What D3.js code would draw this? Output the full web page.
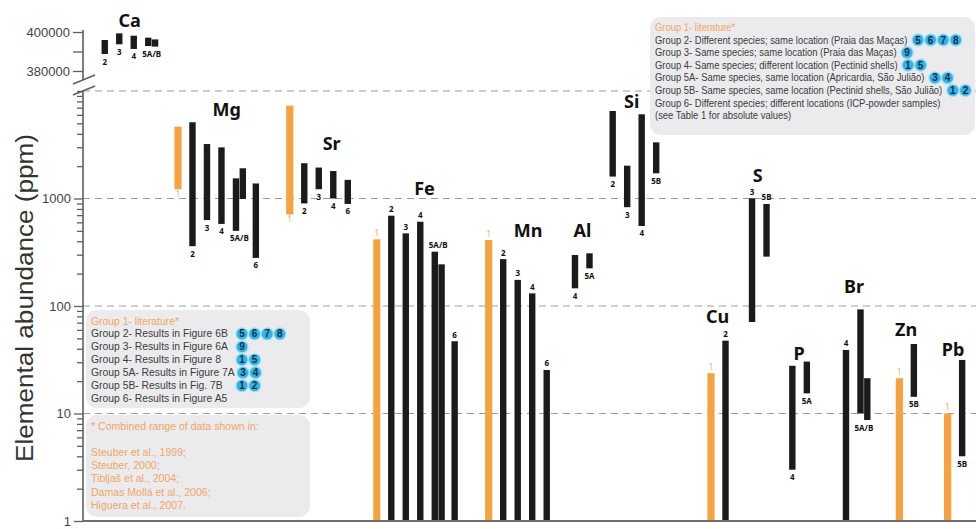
<!DOCTYPE html>
<html>
<head>
<meta charset="utf-8">
<script src="https://cdn.jsdelivr.net/npm/d3@7"></script>
<style>
  body { margin: 0; background: #fff; }
  svg { display: block; }
</style>
</head>
<body>
<svg id="chart" width="976" height="529"></svg>
<script>
// ---- data ---------------------------------------------------------------
// Element order along the horizontal axis
const elements = ["Ca", "Mg", "Sr", "Fe", "Mn", "Al", "Si", "Cu", "S", "P", "Br", "Zn", "Pb"];

// Ranges per element: [group, low ppm, high ppm]; a low of 1 runs down to the axis
const caRanges = [["2", 388700, 395900], ["3", 393700, 399300], ["4", 391300, 398100], ["5A", 392800, 397100], ["5B", 392500, 396200]];
const mgRanges = [["1", 1220, 4660], ["2", 360, 5120], ["3", 630, 3210], ["4", 580, 2990], ["5A", 500, 1540], ["5B", 990, 1910], ["6", 280, 1380]];
const srRanges = [["1", 710, 7300], ["2", 900, 2130], ["3", 1220, 1940], ["4", 1000, 1800], ["6", 890, 1490]];
const feRanges = [["1", 1, 417], ["2", 1, 692], ["3", 1, 474], ["4", 1, 608], ["5A", 1, 320], ["5B", 1, 244], ["6", 1, 47]];
const mnRanges = [["1", 1, 411], ["2", 1, 273], ["3", 1, 175], ["4", 1, 131], ["6", 1, 25.4]];
const alRanges = [["4", 146, 298], ["5A", 224, 309]];
const siRanges = [["2", 1600, 6520], ["3", 830, 2020], ["4", 555, 6070], ["5B", 1715, 3330]];
const cuRanges = [["1", 1, 23.7], ["2", 1, 47.6]];
const sRanges  = [["3", 71, 1005], ["5B", 288, 889]];
const pRanges  = [["4", 3, 27.8], ["5A", 15.4, 30.4]];
const brRanges = [["4", 1, 39], ["5A", 10, 93], ["5B", 8.7, 21.3]];
const znRanges = [["1", 1, 21.3], ["5B", 14.3, 44.3]];
const pbRanges = [["1", 1, 10], ["5B", 4, 31.5]];

// Axis ticks
const logTickLabels = [1, 10, 100, 1000];
const logGridValues = [10, 100, 1000, 10000];
const caTickValues = [380000, 390000, 400000];
const caTickLabels = ["380000", "", "400000"];

// Legend contents: [text, badge numbers]
const legendTopRight = [
  ["Group 1- literature*", []],
  ["Group 2- Different species; same location (Praia das Maças)", [5, 6, 7, 8]],
  ["Group 3- Same species; same location (Praia das Maças)", [9]],
  ["Group 4- Same species; different  location (Pectinid shells)", [1, 5]],
  ["Group 5A- Same species, same location (Apricardia, São Julião)", [3, 4]],
  ["Group 5B- Same species, same location (Pectinid shells, São Julião)", [1, 2]],
  ["Group 6- Different species; different locations (ICP-powder samples)", []],
  ["(see Table 1 for absolute values)", []]
];
const legendBottomLeft = [
  ["Group 1- literature*", []],
  ["Group 2- Results in Figure 6B", [5, 6, 7, 8]],
  ["Group 3- Results in Figure 6A", [9]],
  ["Group 4- Results in Figure 8", [1, 5]],
  ["Group 5A- Results in Figure 7A", [3, 4]],
  ["Group 5B- Results in Fig. 7B", [1, 2]],
  ["Group 6- Results in Figure A5", []]
];
const sourceLines = [
  "* Combined range of data shown in:",
  "",
  "Steuber et al., 1999;",
  "Steuber, 2000;",
  "Tibljaš et al., 2004;",
  "Damas Mollá et al., 2006;",
  "Higuera et al., 2007."
];

// ---- layout -------------------------------------------------------------
const rangesByElement = {
  Ca: caRanges, Mg: mgRanges, Sr: srRanges, Fe: feRanges, Mn: mnRanges, Al: alRanges,
  Si: siRanges, Cu: cuRanges, S: sRanges, P: pRanges, Br: brRanges, Zn: znRanges, Pb: pbRanges
};
// start: slot of first bar; labelAt: slot offset of element name; labelValue: baseline of the name
const layout = {
  Ca: { start: 1.5,   labelAt: 1.72, labelValue: 402560 },
  Mg: { start: 6.55,  labelAt: 3.36, labelValue: 5850 },
  Sr: { start: 14.26, labelAt: 2.89, labelValue: 2827 },
  Fe: { start: 20.26, labelAt: 3.29, labelValue: 1078 },
  Mn: { start: 27.98, labelAt: 2.71, labelValue: 441 },
  Al: { start: 33.93, labelAt: 0.52, labelValue: 441 },
  Si: { start: 36.53, labelAt: 1.31, labelValue: 6950 },
  Cu: { start: 43.31, labelAt: 0.45, labelValue: 70 },
  S:  { start: 46.14, labelAt: 0.39, labelValue: 1433, tagSide: "above" },
  P:  { start: 48.92, labelAt: 0.46, labelValue: 31.5 },
  Br: { start: 52.62, labelAt: 0.55, labelValue: 133 },
  Zn: { start: 56.3,  labelAt: 0.46, labelValue: 52.6 },
  Pb: { start: 59.63, labelAt: 0.37, labelValue: 34.3 }
};

const ORANGE = "#f5a340";
const ORANGE_TEXT = "#f2a663";
const BAR = "#1b1b1b";
const AXIS = "#5f5f5f";
const LEG_TEXT = "#3b3b3b";

const svg = d3.select("#chart");
const axisX = 83;
const slotW = 14.5;

const x = d3.scaleLinear().domain([0, 62]).range([axisX, axisX + 62 * slotW]);
const y = d3.scaleLog().domain([1, 10000]).range([521, 91]);
const yCa = d3.scaleLinear().domain([380000, 400000]).range([71, 32]);

// ---- gridlines ------------------------------------------------------------
svg.append("g").selectAll("line").data(logGridValues).join("line")
  .attr("x1", axisX).attr("x2", 976)
  .attr("y1", d => y(d)).attr("y2", d => y(d))
  .attr("stroke", "#9c9c9c").attr("stroke-width", 1.2)
  .attr("stroke-dasharray", "7,5");

// ---- legend boxes (under the bars) --------------------------------------
const legendFont = "'Liberation Sans', Arial, sans-serif";

function badgeRow(g, cx, cy, nums) {
  nums.forEach((n, i) => {
    const bx = cx + i * 12.6;
    g.append("circle").attr("cx", bx).attr("cy", cy).attr("r", 6.6)
      .attr("fill", "#9fdcf2");
    g.append("circle").attr("cx", bx).attr("cy", cy).attr("r", 5.4)
      .attr("fill", "#32b3e3");
    g.append("text").attr("x", bx).attr("y", cy + 3.5)
      .attr("text-anchor", "middle")
      .attr("font-family", "'Liberation Sans', Arial, sans-serif").attr("font-weight", 700)
      .attr("font-size", 10).attr("fill", "#15304f").text(n);
  });
}

function drawLegend(opts) {
  const g = svg.append("g");
  g.append("rect").attr("x", opts.box[0]).attr("y", opts.box[1])
    .attr("width", opts.box[2]).attr("height", opts.box[3])
    .attr("rx", 11).attr("fill", "#ebebed");
  const rows = opts.lines.map((ln, i) => {
    const row = g.append("g")
      .attr("transform", `translate(${opts.x0},${opts.y0 + i * opts.step})`);
    const t = row.append("text")
      .attr("font-family", legendFont).attr("font-size", opts.size)
      .attr("fill", (opts.orangeRows || []).includes(i) ? ORANGE_TEXT : LEG_TEXT)
      .text(ln[0]);
    return { row, w: t.node().getComputedTextLength() };
  });
  // condense the type horizontally so the reference row spans its width
  const k = opts.refWidth / rows[opts.refRow].w;
  rows.forEach((r, i) => {
    r.row.attr("transform", `translate(${opts.x0},${opts.y0 + i * opts.step}) scale(${k},1)`);
  });
  opts.lines.forEach((ln, i) => {
    if (!ln[1] || !ln[1].length) return;
    const end = opts.x0 + rows[i].w * k;
    const cx = Math.max(opts.badgeMin || 0, end + opts.badgeGap);
    badgeRow(g, cx, opts.y0 + i * opts.step - 3.6, ln[1]);
  });
}

drawLegend({
  box: [650, 17, 325, 118], x0: 655, y0: 31, step: 12.6, size: 10.5,
  lines: legendTopRight, orangeRows: [0], refRow: 1, refWidth: 253, badgeGap: 10
});
drawLegend({
  box: [86, 310, 224, 98], x0: 91, y0: 324.5, step: 12.95, size: 11,
  lines: legendBottomLeft, orangeRows: [0], refRow: 1, refWidth: 137, badgeGap: 8, badgeMin: 242
});
drawLegend({
  box: [86, 415, 224, 102], x0: 91, y0: 429.5, step: 13.2, size: 11,
  lines: sourceLines.map(s => [s, []]), orangeRows: sourceLines.map((s, i) => i),
  refRow: 0, refWidth: 168, badgeGap: 6
});

// ---- bars -----------------------------------------------------------------
function placeBars(name) {
  const L = layout[name];
  let pos = L.start, prev = null;
  return rangesByElement[name].map((r, i) => {
    if (i > 0) pos += (prev === "5A" && r[0] === "5B") ? 0.47 : (prev === "5B" ? 0.9 : 1);
    prev = r[0];
    return { element: name, group: r[0], low: r[1], high: r[2], slot: pos };
  });
}

const barsByElement = {};
elements.forEach(e => { barsByElement[e] = placeBars(e); });
const allBars = elements.flatMap(e => barsByElement[e]);
const yFor = e => (e === "Ca" ? yCa : y);

svg.append("g").selectAll("rect").data(allBars).join("rect")
  .attr("x", d => x(d.slot) - (d.group === "1" ? 3.6 : 3.2))
  .attr("width", d => (d.group === "1" ? 7.2 : 6.4))
  .attr("y", d => yFor(d.element)(d.high))
  .attr("height", d => yFor(d.element)(d.low) - yFor(d.element)(d.high))
  .attr("fill", d => (d.group === "1" ? ORANGE : BAR));

// group tags under / above each bar
const tags = [];
elements.forEach(e => {
  const bars = barsByElement[e];
  const ys = yFor(e);
  const a = bars.find(b => b.group === "5A");
  const b5 = bars.find(b => b.group === "5B");
  bars.forEach(b => {
    if (a && b5 && b.group === "5B") return;
    const pair = (a && b5 && b.group === "5A") ? [a, b5] : [b];
    const side = layout[e].tagSide || (b.low <= 1 ? "above" : "below");
    const cx = d3.mean(pair, p => x(p.slot));
    const top = d3.min(pair, p => ys(p.high));
    const bottom = d3.max(pair, p => ys(p.low));
    const orange = b.group === "1";
    tags.push({
      text: pair.length === 2 ? "5A/B" : b.group,
      x: cx,
      y: side === "above" ? top - 3.5 : bottom + (orange ? 7.5 : 10.5),
      orange
    });
  });
});
svg.append("g").selectAll("text").data(tags).join("text")
  .attr("x", d => d.x).attr("y", d => d.y)
  .attr("text-anchor", "middle")
  .attr("font-family", "'Noto Sans', sans-serif")
  .attr("font-weight", d => (d.orange ? 400 : 700))
  .attr("font-size", 8)
  .attr("fill", d => (d.orange ? ORANGE_TEXT : "#111"))
  .text(d => d.text);

// element names
svg.append("g").selectAll("text").data(elements).join("text")
  .attr("x", e => x(layout[e].start + layout[e].labelAt))
  .attr("y", e => yFor(e)(layout[e].labelValue))
  .attr("text-anchor", "middle")
  .attr("font-family", "'Noto Sans', sans-serif").attr("font-weight", 700)
  .attr("font-size", 18).attr("fill", "#111")
  .text(e => e);

// ---- axes -------------------------------------------------------------------
// lower (log) axis with minor ticks
const logTicks = [];
for (let dec = 1; dec < 10000; dec *= 10) for (let m = 1; m < 10; m++) logTicks.push(dec * m);
logTicks.push(10000);
const gLog = svg.append("g").attr("transform", `translate(${axisX},0)`)
  .call(d3.axisLeft(y).tickValues(logTicks).tickSizeOuter(0).tickPadding(4)
    .tickFormat(d => (logTickLabels.includes(d) ? d : "")));
gLog.select(".domain").remove();
gLog.selectAll(".tick line")
  .attr("x2", d => (logTickLabels.includes(d) ? -9 : -6))
  .attr("stroke", AXIS).attr("stroke-width", 1.3);
gLog.selectAll(".tick text")
  .attr("x", -12)
  .attr("font-family", "'Liberation Sans', Arial, sans-serif")
  .attr("font-size", 13).attr("fill", "#444");
svg.append("line").attr("x1", axisX).attr("x2", axisX)
  .attr("y1", 91).attr("y2", 522).attr("stroke", AXIS).attr("stroke-width", 1.6);

// upper (linear) axis for calcium
const gCa = svg.append("g").attr("transform", `translate(${axisX},0)`)
  .call(d3.axisLeft(yCa).tickValues(caTickValues).tickSizeOuter(0).tickPadding(4)
    .tickFormat((d, i) => caTickLabels[i]));
gCa.select(".domain").remove();
gCa.selectAll(".tick line").attr("x2", -10).attr("stroke", AXIS).attr("stroke-width", 1.3);
gCa.selectAll(".tick text")
  .attr("x", -13)
  .attr("font-family", "'Liberation Sans', Arial, sans-serif")
  .attr("font-size", 13).attr("fill", "#444");
svg.append("line").attr("x1", axisX).attr("x2", axisX)
  .attr("y1", 30).attr("y2", 80).attr("stroke", AXIS).attr("stroke-width", 1.6);

// axis break marks
svg.append("g").selectAll("line").data([0, 1]).join("line")
  .attr("x1", 73).attr("x2", 95)
  .attr("y1", i => 84 + i * 11).attr("y2", i => 75 + i * 11)
  .attr("stroke", AXIS).attr("stroke-width", 1.5);

// horizontal baseline
svg.append("line").attr("x1", axisX).attr("x2", 976)
  .attr("y1", 521).attr("y2", 521).attr("stroke", "#6e6e6e").attr("stroke-width", 2);

// y-axis title
svg.append("text")
  .attr("transform", "translate(33,298) rotate(-90)")
  .attr("text-anchor", "middle")
  .attr("font-family", "'Liberation Sans', Arial, sans-serif")
  .attr("font-size", 23).attr("fill", "#333")
  .attr("textLength", 328).attr("lengthAdjust", "spacingAndGlyphs")
  .text("Elemental abundance (ppm)");
</script>
</body>
</html>
